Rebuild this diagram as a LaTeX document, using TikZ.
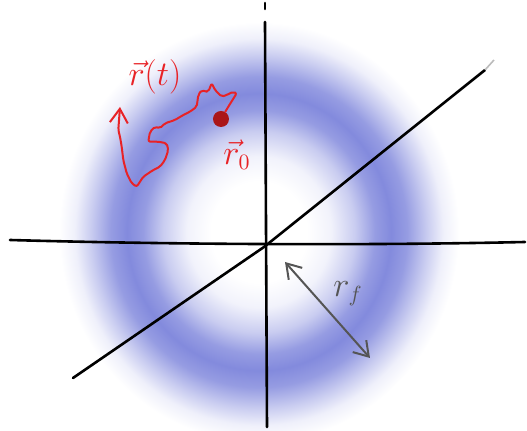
\documentclass[tikz,border=0pt]{standalone}
\usetikzlibrary{arrows.meta}

\definecolor{azul}{RGB}{120,128,218}
\definecolor{rojo}{RGB}{232,34,38}
\definecolor{rojoosc}{RGB}{170,22,24}
\definecolor{gris}{RGB}{85,85,85}

% Anillo difuminado (distribucion radial, 25bp = borde)
\pgfdeclareradialshading{anillo}{\pgfpoint{0bp}{0bp}}{%
  color(0bp)=(white); color(6bp)=(white); color(9bp)=(azul!10);
  color(12bp)=(azul!40); color(14.5bp)=(azul!78); color(16.5bp)=(azul!92);
  color(18.5bp)=(azul!78); color(21bp)=(azul!40); color(23bp)=(azul!12);
  color(25bp)=(white); color(50bp)=(white)}

\begin{document}
\begin{tikzpicture}[
  x=0.5pt, y=-0.5pt,
  eje/.style={line width=1.3pt, black, line cap=round},
  camino/.style={rojo, line width=1pt, line join=round, line cap=round, rounded corners=1pt},
  radio/.style={gris, line width=1pt, {Straight Barb[length=7pt,width=9pt]}-{Straight Barb[length=7pt,width=9pt]}},
  etiq/.style={inner sep=1pt, font=\fontsize{16}{18}\selectfont}
]
  \useasboundingbox (0,0) rectangle (527,431);

  % Anillo
  \shade[shading=anillo] (259,232) ellipse [x radius=200, y radius=210];

  % Ejes
  \coordinate (oN) at (265,22);
  \coordinate (oS) at (267,427);
  \coordinate (oW) at (10,240);
  \coordinate (oE) at (525,242);
  \coordinate (oSW) at (73,378);
  \coordinate (oNE) at (485,70);
  \coordinate (o) at (264,247);
  \draw[eje] (265,3) -- (265,9);
  \draw[eje] (oN) -- (oS);
  \draw[eje] (oW) .. controls (150,244) and (350,246) .. (oE);
  \draw[eje] (oSW) -- (o) -- (oNE);
  \draw[gris!40, line width=0.8pt] (oNE) -- (494,60);

  % Punto inicial y trayectoria
  \node[circle, fill=rojoosc, inner sep=0pt, minimum size=8pt] (r0) at (221,119) {};
  \coordinate (fin) at (120,107);
  \draw[camino, -{Straight Barb[length=7pt,width=9pt]}] (r0) -- (228.3,106.7) -- (236.7,93.3) -- (233.3,91.7)
    -- (226.7,95) -- (221.7,96.7) -- (218.3,93.3) -- (215,90) -- (211.7,83.3)
    -- (208.3,91.7) -- (205,91.7) -- (201.7,90) -- (198.3,95) -- (196.7,106.7)
    -- (190,111.7) -- (183.3,115) -- (175,120) -- (165,123.3) -- (160,128.3)
    -- (155,126.7) -- (150,131.7) -- (148.3,141.7) -- (158.3,141.7) -- (166.7,143.3)
    -- (168.3,150) -- (165,160) -- (160,166.7) -- (153.3,170) -- (143.3,176.7)
    -- (136.7,186.7) -- (131.7,183.3) -- (126.7,173.3) -- (123.3,160) -- (121.7,146.7)
    -- (120,136.7) -- (118.3,130) -- (fin);

  % Etiquetas
  \node[etiq, text=rojo] (lrt) at (155,77) {$\vec{r}(t)$};
  \node[etiq, text=rojo] (lr0) at (237,155) {$\vec{r}_{0}$};

  % Radio r_f
  \coordinate (ra) at (285,262);
  \coordinate (rb) at (370,358);
  \draw[radio] (ra) -- (rb);
  \node[etiq, text=gris] (lrf) at (348,294) {$r_{f}$};
\end{tikzpicture}
\end{document}
